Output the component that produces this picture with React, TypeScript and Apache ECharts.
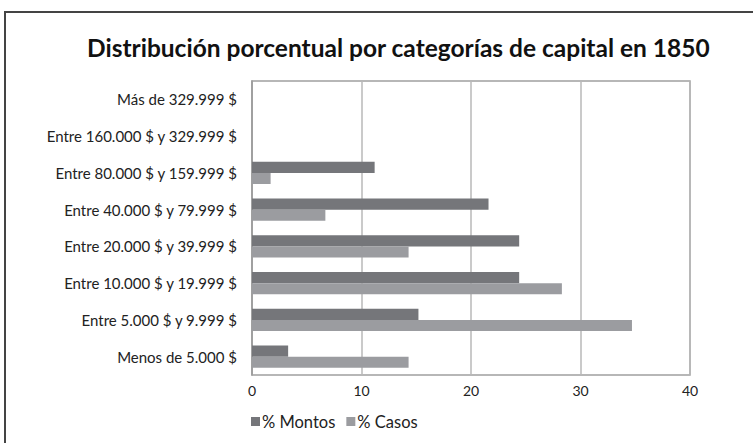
import React, { useEffect, useRef } from "react";
import * as echarts from "echarts";

const categories = [
  "Menos de 5.000 $",
  "Entre 5.000 $ y 9.999 $",
  "Entre 10.000 $ y 19.999 $",
  "Entre 20.000 $ y 39.999 $",
  "Entre 40.000 $ y 79.999 $",
  "Entre 80.000 $ y 159.999 $",
  "Entre 160.000 $ y 329.999 $",
  "Más de 329.999 $",
];
const montos = [3.3, 15.2, 24.4, 24.4, 21.6, 11.2, 0, 0];
const casos = [14.3, 34.7, 28.3, 14.3, 6.7, 1.7, 0, 0];
const seriesNames = ["% Montos", "% Casos"];
const title = "Distribución porcentual por categorías de capital en 1850";

export default function App() {
  const ref = useRef<HTMLDivElement>(null);
  useEffect(() => {
    if (!ref.current) return;
    const chart = echarts.init(ref.current, null, { renderer: "svg" });
    const font = "Lato, 'Open Sans', sans-serif";
    chart.setOption({
      animation: false,
      backgroundColor: "#fff",
      title: {
        text: title,
        left: 82,
        top: 30,
        textStyle: { fontFamily: font, fontSize: 24.5, fontWeight: "bold", color: "#111" },
      },
      graphic: [
        {
          type: "rect",
          shape: { x: 5, y: 12, width: 800, height: 500 },
          style: { fill: "none", stroke: "#444", lineWidth: 2 },
          silent: true,
        },
      ],
      legend: {
        data: seriesNames,
        bottom: 8,
        left: 246,
        itemWidth: 9,
        itemHeight: 9,
        itemGap: 11,
        icon: "rect",
        textStyle: { fontFamily: font, fontSize: 16.5, color: "#222", padding: [0, 0, 0, -3] },
      },
      grid: {
        left: 252,
        right: 63,
        top: 81,
        bottom: 68,
        show: true,
        borderColor: "#a0a0a0",
        borderWidth: 1.5,
      },
      xAxis: {
        type: "value",
        min: 0,
        max: 40,
        interval: 10,
        axisLine: { show: false },
        axisTick: { show: false },
        axisLabel: { fontFamily: font, fontSize: 14, color: "#222", margin: 8 },
        splitLine: { lineStyle: { color: "#b8b8b8", width: 1.5 } },
      },
      yAxis: {
        type: "category",
        data: categories,
        axisLine: { show: true, lineStyle: { color: "#999", width: 1.5 } },
        axisTick: { show: false },
        axisLabel: { fontFamily: font, fontSize: 15, color: "#222", margin: 15 },
      },
      series: [
        {
          name: seriesNames[0],
          type: "bar",
          data: montos,
          itemStyle: { color: "#75767a" },
          barGap: "0%",
          barCategoryGap: "40%",
        },
        {
          name: seriesNames[1],
          type: "bar",
          data: casos,
          itemStyle: { color: "#9b9ca0" },
          barGap: "0%",
          barCategoryGap: "40%",
        },
      ],
    });
    return () => chart.dispose();
  }, []);
  return (
    <div style={{ position: "fixed", left: 0, top: 0, width: 753, height: 443 }}>
      <div ref={ref} style={{ width: 753, height: 443 }} />
    </div>
  );
}
